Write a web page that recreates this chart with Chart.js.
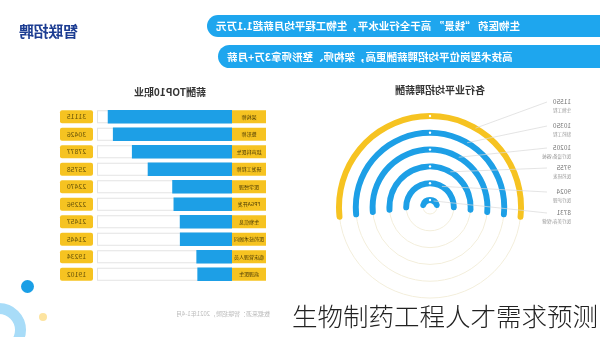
<!DOCTYPE html>
<html>
<head>
<meta charset="utf-8">
<script src="https://cdn.jsdelivr.net/npm/chart.js@4.4.0/dist/chart.umd.min.js"></script>
<style>
  body { margin: 0; width: 600px; height: 337px; overflow: hidden; background: #fff; font-family: "Noto Sans CJK SC", "Noto Sans", sans-serif; }
  /* the reference is a mirrored picture, so the whole sheet is flipped */
  #flip { position: absolute; left: 0; top: 0; width: 600px; height: 337px; transform: scaleX(-1); }
  .logo { position: absolute; left: 522px; top: 20px; font-size: 15px; font-weight: 700; color: #1c3d92; letter-spacing: -0.3px; }
  .banner { position: absolute; left: 0; background: #1ea6ee; color: #fff; font-weight: 700; font-size: 10.5px; text-align: right; box-sizing: border-box; padding-right: 9px; border-radius: 0 12px 12px 0; white-space: nowrap; }
  .b1 { top: 15px; width: 393px; height: 22px; line-height: 22px; }
  .b2 { top: 45px; width: 382px; height: 23px; line-height: 23px; }
  .title { position: absolute; font-size: 10px; font-weight: 700; color: #333; text-align: center; width: 160px; }
  .t1 { left: 80px; top: 82px; }
  .t2 { left: 350px; top: 84px; }
  #ringBox { position: absolute; left: 0; top: 87px; width: 340px; height: 240px; }
  #barBox { position: absolute; left: 330px; top: 100px; width: 215px; height: 190px; }
  .src { position: absolute; left: 262px; top: 309px; width: 162px; font-size: 6px; color: #bbb; text-align: right; white-space: nowrap; }
  .deco { position: absolute; border-radius: 50%; }
  .big { position: absolute; left: 292px; top: 296px; font-size: 25.5px; font-weight: 300; color: #222; white-space: nowrap; text-shadow: 0 0 2px #fff, 0 0 2px #fff; }
</style>
</head>
<body>
<div id="flip">
  <div class="logo">智联招聘</div>
  <div class="banner b1">生物医药 “钱景” 高于全行业水平，生物工程平均月薪超1.1万元</div>
  <div class="banner b2">高技术型岗位平均招聘薪酬更高，架构师、整形师拿3万+月薪</div>
  <div class="title t1">各行业平均招聘薪酬</div>
  <div class="title t2">薪酬TOP10职业</div>
  <div id="ringBox"><canvas id="ringChart"></canvas></div>
  <div id="barBox"><canvas id="barChart"></canvas></div>
  <div class="src">数据来源：智联招聘，2021年1-4月</div>
  <div class="deco" style="left:574px;top:303px;width:32px;height:32px;border:11px solid #a8dcf8;"></div>
  <div class="deco" style="left:566px;top:280px;width:13px;height:13px;background:#1a9fe6;"></div>
  <div class="deco" style="left:553px;top:313px;width:8px;height:8px;background:#fde4a0;"></div>
</div>
<div class="big">生物制药工程人才需求预测</div>

<script>
// top 10 jobs by salary
const jobLabels = ["架构师", "整形师", "超声科医生", "研发工程师", "医学经理", "FPGA开发", "生物信息", "医药技术顾问", "临床管理人员", "病理医生"];
const jobSalaries = [31115, 30426, 27877, 25758, 22470, 22296, 21457, 21445, 19234, 19102];

// average salary by industry
const industryLabels = ["生物工程", "制药工程", "医疗设备/器械", "医药研发", "医疗护理", "医疗美容/保健"];
const industrySalaries = [11550, 10350, 10205, 9755, 9024, 8731];

const yellow = "#f6c321";
const blue = "#1d9fe6";

Chart.defaults.font.family = '"Noto Sans CJK SC", "Noto Sans", sans-serif';

// white tracks behind bars, yellow boxes for names and values
const barBoxes = {
  id: "barBoxes",
  beforeDatasetsDraw(chart) {
    const { ctx, chartArea } = chart;
    const y = chart.scales.y;
    ctx.save();
    jobLabels.forEach((l, i) => {
      const cy = y.getPixelForValue(i);
      ctx.fillStyle = "#fff";
      ctx.strokeStyle = "#e4e4e4";
      ctx.lineWidth = 1;
      ctx.fillRect(chartArea.left, cy - 6.5, chartArea.width, 13);
      ctx.strokeRect(chartArea.left + 0.5, cy - 6, chartArea.width - 1, 12);
    });
    ctx.restore();
  },
  afterDatasetsDraw(chart) {
    const { ctx, chartArea } = chart;
    const y = chart.scales.y;
    ctx.save();
    ctx.textAlign = "center";
    ctx.textBaseline = "middle";
    jobLabels.forEach((l, i) => {
      const cy = y.getPixelForValue(i);
      ctx.fillStyle = yellow;
      ctx.fillRect(chartArea.left - 34, cy - 6.5, 34, 13);
      ctx.beginPath();
      ctx.roundRect(chartArea.right + 4, cy - 6.5, 33, 13, 2);
      ctx.fill();
      ctx.fillStyle = "#4a3a05";
      ctx.font = "5px " + Chart.defaults.font.family;
      ctx.fillText(l, chartArea.left - 17, cy);
      ctx.fillStyle = "#6a5508";
      ctx.font = "7px " + Chart.defaults.font.family;
      ctx.fillText(jobSalaries[i], chartArea.right + 20.5, cy);
    });
    ctx.restore();
  }
};

new Chart(document.getElementById("barChart"), {
  type: "bar",
  data: {
    labels: jobLabels,
    datasets: [{
      data: jobSalaries,
      backgroundColor: blue,
      borderWidth: 0,
      barThickness: 13
    }]
  },
  options: {
    indexAxis: "y",
    responsive: true,
    maintainAspectRatio: false,
    animation: false,
    layout: { padding: { left: 38, right: 42, top: 8, bottom: 7 } },
    plugins: { legend: { display: false }, tooltip: { enabled: false } },
    scales: {
      x: { display: false, min: 14500, max: 32600 },
      y: { display: false }
    }
  },
  plugins: [barBoxes]
});

// rings: one dataset per industry, with empty spacer rings between them
const ringColors = [yellow, blue, blue, blue, blue, blue];
const ringSets = [];
industrySalaries.forEach((v, i) => {
  if (i > 0) {
    ringSets.push({ data: [1], backgroundColor: "rgba(0,0,0,0)", borderWidth: 0, weight: 11 });
  }
  ringSets.push({
    data: [v],
    backgroundColor: ringColors[i],
    borderWidth: 0,
    weight: 6,
    rotation: -98,
    circumference: 196,
    borderRadius: 3
  });
});

const ringExtras = {
  id: "ringExtras",
  beforeDatasetsDraw(chart) {
    const { ctx } = chart;
    ctx.save();
    ctx.strokeStyle = "#f3eedb";
    ctx.lineWidth = 1;
    industrySalaries.forEach((v, i) => {
      const arc = chart.getDatasetMeta(i * 2).data[0];
      const r = (arc.innerRadius + arc.outerRadius) / 2;
      ctx.beginPath();
      ctx.arc(arc.x, arc.y, r, 0, Math.PI * 2);
      ctx.stroke();
    });
    ctx.restore();
  },
  afterDatasetsDraw(chart) {
    const { ctx } = chart;
    const top = chart.canvas.parentNode.offsetTop;
    const rowY = [102, 126, 148, 168, 192, 213];
    ctx.save();
    industrySalaries.forEach((v, i) => {
      const arc = chart.getDatasetMeta(i * 2).data[0];
      const r = (arc.innerRadius + arc.outerRadius) / 2;
      const a = -Math.PI + Math.PI / 3;
      const ly = rowY[i] - top;
      // leader line
      ctx.strokeStyle = "#d8d8d8";
      ctx.lineWidth = 0.7;
      ctx.beginPath();
      ctx.moveTo(53, ly);
      ctx.lineTo(arc.x + Math.cos(a) * r, arc.y + Math.sin(a) * r);
      ctx.stroke();
      // little white dot on top of each ring
      ctx.fillStyle = "#fff";
      ctx.beginPath();
      ctx.arc(arc.x, arc.y - r, 1.2, 0, Math.PI * 2);
      ctx.fill();
      // labels
      ctx.textAlign = "left";
      ctx.textBaseline = "middle";
      ctx.fillStyle = "#777";
      ctx.font = "6.5px " + Chart.defaults.font.family;
      ctx.fillText(v, 29, ly);
      ctx.fillStyle = "#9a9a9a";
      ctx.font = "4.5px " + Chart.defaults.font.family;
      ctx.fillText(industryLabels[i], 29, ly + 8);
    });
    ctx.restore();
  }
};

new Chart(document.getElementById("ringChart"), {
  type: "doughnut",
  data: { labels: ["薪酬"], datasets: ringSets },
  options: {
    responsive: true,
    maintainAspectRatio: false,
    animation: false,
    radius: 94,
    cutout: "4.3%",
    plugins: { legend: { display: false }, tooltip: { enabled: false } }
  },
  plugins: [ringExtras]
});
</script>
</body>
</html>
